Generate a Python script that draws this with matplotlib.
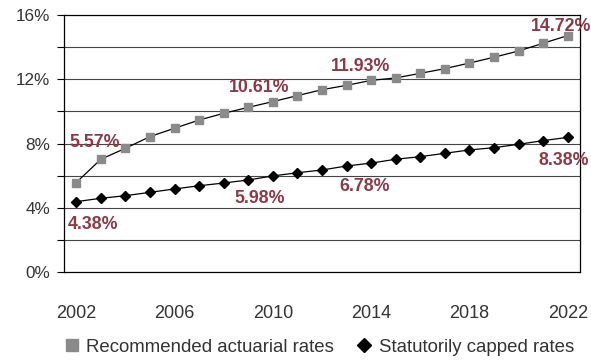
import numpy as np
import matplotlib
matplotlib.use("Agg")
import matplotlib.pyplot as plt
from matplotlib.lines import Line2D

plt.rcParams['font.family'] = ['Liberation Sans', 'DejaVu Sans']

years = list(range(2002, 2023))
actuarial = [5.57, 7.02, 7.70, 8.43, 8.95, 9.46, 9.88, 10.25, 10.61, 10.98, 11.35,
             11.62, 11.93, 12.08, 12.37, 12.66, 13.01, 13.37, 13.76, 14.24, 14.72]
capped = [4.38, 4.59, 4.75, 4.96, 5.17, 5.37, 5.54, 5.73, 5.98, 6.18, 6.35,
          6.60, 6.78, 7.02, 7.18, 7.39, 7.60, 7.74, 7.95, 8.18, 8.38]
year_labels = [2002, 2006, 2010, 2014, 2018, 2022]
series_names = ['Recommended actuarial rates', 'Statutorily capped rates']

# which points get a value label, and where (pixel offsets)
act_labels = {2002: (18, 40), 2010: (-14, 14), 2014: (-11, 14), 2022: (-7, 9)}
cap_labels = {2002: (17, -23), 2010: (-13, -23), 2014: (-7, -23), 2022: (-4, -23)}

label_col = '#8b3a48'
sq_col = '#8a8a8a'

fig = plt.figure(figsize=(5.91, 3.6), dpi=100)
ax = fig.add_axes([64/591, 1 - 272/360, (580 - 64)/591, (272 - 15)/360])

x = np.arange(len(years))
ax.plot(x, actuarial, color='black', lw=0.9, marker='s', ms=6,
        mfc=sq_col, mec=sq_col, zorder=3)
ax.plot(x, capped, color='black', lw=0.9, marker='D', ms=5.5,
        mfc='black', mec='black', zorder=3)

for yr, off in act_labels.items():
    i = years.index(yr)
    ax.annotate('%.2f%%' % actuarial[i], (x[i], actuarial[i]), xytext=off,
                textcoords='offset pixels', ha='center', va='center',
                fontsize=12.8, fontweight='bold', color=label_col, annotation_clip=False)
for yr, off in cap_labels.items():
    i = years.index(yr)
    ax.annotate('%.2f%%' % capped[i], (x[i], capped[i]), xytext=off,
                textcoords='offset pixels', ha='center', va='center',
                fontsize=12.8, fontweight='bold', color=label_col, annotation_clip=False)

ax.set_xlim(-0.5, len(years) - 0.5)
ax.set_ylim(0, 16)
ax.set_yticks(np.arange(0, 17, 4))
ax.set_yticklabels(['%d%%' % v for v in range(0, 17, 4)])
ax.set_yticks(np.arange(2, 16, 4), minor=True)
ax.tick_params(axis='y', which='both', length=5, width=0.8, direction='out',
               labelsize=12.3, labelcolor='#333333', color='black', pad=5)
for v in range(2, 16, 2):
    ax.axhline(v, color='#444444', lw=0.8, zorder=1)

ax.set_xticks([years.index(y) for y in year_labels])
ax.set_xticklabels([str(y) for y in year_labels])
ax.tick_params(axis='x', length=0, labelsize=13, colors='#333333', pad=24)

for s in ax.spines.values():
    s.set_color('black')
    s.set_linewidth(0.9)

handles = [Line2D([], [], ls='none', marker='s', ms=8, mfc=sq_col, mec=sq_col),
           Line2D([], [], ls='none', marker='D', ms=7, mfc='black', mec='black')]
fig.legend(handles, series_names, loc='lower center', bbox_to_anchor=(0.54, -0.035),
           ncol=2, frameon=False, fontsize=13.4, handlelength=0.8, handletextpad=0.4,
           columnspacing=1.2, labelcolor='#333333')

fig.savefig('out.png', dpi=100)
